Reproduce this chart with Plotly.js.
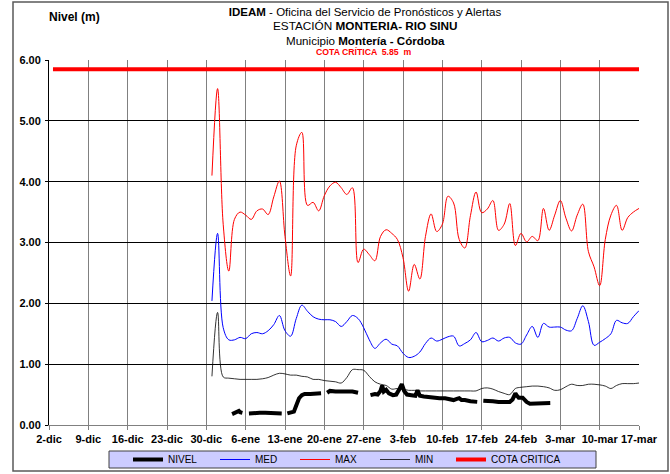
<!DOCTYPE html>
<html>
<head>
<meta charset="utf-8">
<script src="https://cdn.plot.ly/plotly-3.0.1.min.js"></script>
<style>html,body{margin:0;padding:0;background:#fff;}#chart{width:670px;height:474px;}</style>
</head>
<body>
<div id="chart"></div>
<script>
// ---- Data ----
const tickVals = ['2018-12-02','2018-12-09','2018-12-16','2018-12-23','2018-12-30','2019-01-06','2019-01-13','2019-01-20','2019-01-27','2019-02-03','2019-02-10','2019-02-17','2019-02-24','2019-03-03','2019-03-10','2019-03-17'];
const tickLabels = ['2-dic','9-dic','16-dic','23-dic','30-dic','6-ene','13-ene','20-ene','27-ene','3-feb','10-feb','17-feb','24-feb','3-mar','10-mar','17-mar'];
const yTickVals = [0, 1, 2, 3, 4, 5, 6];

// daily historical series start on 31-dic and run to 17-mar
const seriesStart = '2018-12-31';
const maxValues = [4.10,5.53,3.30,2.53,3.38,3.50,3.45,3.38,3.52,3.55,
  3.46,3.75,4.01,3.10,2.45,4.59,4.81,3.61,3.66,3.52,
  3.77,3.93,3.99,3.90,3.79,3.90,2.67,2.89,2.80,2.70,
  3.10,3.21,3.15,3.05,2.75,2.20,2.64,2.40,3.10,3.47,
  3.18,3.30,3.76,3.65,3.05,2.91,3.44,3.83,3.49,3.55,
  3.69,3.20,3.30,3.64,2.95,3.15,3.01,3.10,3.03,3.56,
  3.20,3.45,3.69,3.40,3.19,3.45,3.63,2.85,2.60,2.29,
  3.05,3.45,3.61,3.20,3.41,3.50,3.56];
const medValues = [2.04,3.15,1.60,1.40,1.40,1.44,1.42,1.50,1.52,1.50,
  1.55,1.65,1.80,1.55,1.46,1.75,1.97,1.87,1.78,1.74,
  1.73,1.73,1.70,1.62,1.70,1.80,1.75,1.60,1.40,1.26,
  1.35,1.41,1.33,1.30,1.18,1.11,1.13,1.20,1.34,1.43,
  1.38,1.41,1.45,1.46,1.30,1.34,1.40,1.52,1.37,1.39,
  1.43,1.38,1.43,1.44,1.35,1.33,1.48,1.62,1.44,1.67,
  1.61,1.61,1.61,1.56,1.55,1.75,1.96,1.70,1.31,1.36,
  1.42,1.50,1.72,1.68,1.67,1.78,1.88];
const minValues = [0.80,1.85,0.79,0.77,0.76,0.75,0.75,0.75,0.75,0.76,
  0.78,0.82,0.85,0.84,0.82,0.82,0.80,0.79,0.75,0.75,
  0.73,0.72,0.71,0.69,0.78,0.91,0.91,0.90,0.80,0.71,
  0.67,0.65,0.59,0.60,0.59,0.57,0.57,0.56,0.56,0.56,
  0.56,0.56,0.56,0.56,0.56,0.56,0.56,0.56,0.60,0.61,
  0.59,0.55,0.52,0.50,0.60,0.62,0.63,0.64,0.64,0.63,
  0.61,0.57,0.58,0.63,0.67,0.65,0.65,0.67,0.67,0.66,
  0.64,0.60,0.65,0.68,0.68,0.68,0.69];

// observed level (NIVEL), with gaps
const nivelDates = ['2019-01-03 14:00','2019-01-04 00:00','2019-01-04 12:00','2019-01-04 19:00','2019-01-05 00:00','2019-01-05 10:00','2019-01-05 18:00',
  '2019-01-06 14:00','2019-01-07 12:00','2019-01-08 12:00','2019-01-09 12:00','2019-01-10 12:00','2019-01-11 12:00','2019-01-12 10:00','2019-01-12 18:00',
  '2019-01-13 10:00','2019-01-14 00:00','2019-01-14 14:00','2019-01-15 00:00','2019-01-15 12:00','2019-01-16 00:00','2019-01-16 12:00','2019-01-17 12:00','2019-01-18 12:00','2019-01-19 10:00','2019-01-19 20:00',
  '2019-01-20 12:00','2019-01-21 00:00','2019-01-22 00:00','2019-01-23 00:00','2019-01-24 00:00','2019-01-25 00:00','2019-01-26 00:00','2019-01-26 18:00',
  '2019-01-28 05:00','2019-01-29 00:00','2019-01-29 12:00','2019-01-30 00:00','2019-01-30 07:00','2019-01-30 14:00','2019-01-31 00:00','2019-01-31 12:00',
  '2019-02-01 05:00','2019-02-01 19:00','2019-02-02 10:00','2019-02-02 19:00','2019-02-03 05:00','2019-02-03 17:00','2019-02-04 12:00','2019-02-05 05:00',
  '2019-02-05 14:00','2019-02-06 00:00','2019-02-06 17:00','2019-02-07 12:00','2019-02-08 12:00','2019-02-09 12:00','2019-02-10 12:00','2019-02-11 07:00',
  '2019-02-12 00:00','2019-02-12 14:00','2019-02-13 00:00','2019-02-13 10:00','2019-02-14 00:00','2019-02-15 00:00','2019-02-16 05:00','2019-02-16 16:00',
  '2019-02-17 07:00','2019-02-18 00:00','2019-02-19 00:00','2019-02-20 00:00','2019-02-21 00:00','2019-02-22 00:00','2019-02-22 12:00','2019-02-23 00:00',
  '2019-02-23 07:00','2019-02-23 14:00','2019-02-24 07:00','2019-02-25 00:00','2019-02-25 14:00','2019-02-26 12:00','2019-02-27 12:00','2019-02-28 12:00','2019-03-01 05:00'];
const nivelValues = [0.18,0.20,0.21,0.23,0.21,0.20,null,
  0.19,0.20,0.20,0.20,0.20,0.19,0.19,null,
  0.19,0.20,0.22,0.32,0.44,0.49,0.51,0.51,0.51,0.52,null,
  0.53,0.56,0.55,0.55,0.54,0.55,0.53,null,
  0.49,0.51,0.50,0.56,0.65,0.55,0.58,0.52,
  0.49,0.50,0.60,0.67,0.56,0.50,0.49,0.48,
  0.57,0.48,0.47,0.46,0.45,0.44,0.44,0.42,
  0.41,0.43,0.44,0.41,0.41,0.39,0.38,null,
  0.40,0.40,0.39,0.38,0.38,0.38,0.42,0.52,
  0.48,0.45,0.45,0.38,0.35,0.35,0.35,0.35,0.36];

const cotaDates = ['2018-12-02 17:00','2019-03-17 00:00'];
const cotaValues = [5.85, 5.85];

const seriesNames = ['NIVEL', 'MED', 'MAX', 'MIN', 'COTA CRITICA'];

// ---- build daily date list for historical series ----
function dailyDates(start, n) {
  const t0 = Date.parse(start + 'T00:00:00Z');
  const out = [];
  for (let i = 0; i < n; i++) out.push(new Date(t0 + i * 86400000).toISOString().slice(0, 10));
  return out;
}
const histDates = dailyDates(seriesStart, maxValues.length);

const FONT = 'Liberation Sans, Arial, sans-serif';

const traces = [
  {name: seriesNames[0], legend: 'legend', x: nivelDates, y: nivelValues, type: 'scatter', mode: 'lines',
   line: {color: '#000000', width: 4}, connectgaps: false},
  {name: seriesNames[1], legend: 'legend2', x: histDates, y: medValues, type: 'scatter', mode: 'lines',
   line: {color: '#0000ff', width: 1, shape: 'spline'}},
  {name: seriesNames[2], legend: 'legend3', x: histDates, y: maxValues, type: 'scatter', mode: 'lines',
   line: {color: '#ff0000', width: 1, shape: 'spline'}},
  {name: seriesNames[3], legend: 'legend4', x: histDates, y: minValues, type: 'scatter', mode: 'lines',
   line: {color: '#000000', width: 0.8, shape: 'spline'}},
  {name: seriesNames[4], legend: 'legend5', x: cotaDates, y: cotaValues, type: 'scatter', mode: 'lines',
   line: {color: '#ff0000', width: 4}}
];

const L = 49, R = 31, T = 60, B = 49, W = 670, H = 474;
const pw = W - L - R, ph = H - T - B;
const px = v => (v - L) / pw;
const py = v => (H - B - v) / ph;

function legendAt(textStartPx) {
  return {
    orientation: 'h', xref: 'paper', yref: 'paper',
    x: px(textStartPx - 38), xanchor: 'left', y: py(459.5), yanchor: 'middle',
    bgcolor: 'rgba(0,0,0,0)', borderwidth: 0,
    font: {family: FONT, size: 10, color: '#000'}
  };
}

const layout = {
  width: W, height: H,
  margin: {l: L, r: R, t: T, b: B, pad: 0, autoexpand: false},
  paper_bgcolor: '#ffffff', plot_bgcolor: '#ffffff',
  font: {family: FONT, size: 11, color: '#000'},
  showlegend: true,
  title: {
    text: '<b>IDEAM</b> - Oficina del Servicio de Pronósticos y Alertas',
    font: {family: FONT, size: 11.5, color: '#000'},
    x: px(365), xref: 'paper', xanchor: 'center',
    y: 1 - 12 / H, yref: 'container', yanchor: 'middle'
  },
  xaxis: {
    type: 'date', range: ['2018-12-02', '2019-03-17'],
    tickmode: 'array', tickvals: tickVals, ticktext: tickLabels,
    tickfont: {family: FONT, size: 11, weight: 'bold', color: '#000'},
    ticks: 'outside', ticklen: 4, tickcolor: '#808080',
    showgrid: true, gridcolor: '#808080', gridwidth: 1,
    showline: true, linecolor: '#808080', linewidth: 1,
    zeroline: false, fixedrange: true, automargin: false
  },
  yaxis: {
    range: [0, 6], tickmode: 'array', tickvals: yTickVals,
    tickformat: '.2f',
    tickfont: {family: FONT, size: 11, weight: 'bold', color: '#000'},
    ticks: 'outside', ticklen: 3, tickcolor: '#000', ticklabelstandoff: 2,
    showgrid: true, gridcolor: '#000000', gridwidth: 1,
    showline: true, linecolor: '#000', linewidth: 1,
    zeroline: false, fixedrange: true, automargin: false
  },
  legend: legendAt(166),
  legend2: legendAt(253),
  legend3: legendAt(333),
  legend4: legendAt(413),
  legend5: legendAt(489),
  shapes: [
    {type: 'rect', xref: 'paper', yref: 'paper', x0: px(109), x1: px(596), y0: py(468), y1: py(451),
     fillcolor: '#ccccff', line: {color: '#404040', width: 1}, layer: 'below'},
    {type: 'rect', xref: 'paper', yref: 'paper', x0: px(13), x1: px(668), y0: py(471), y1: py(2),
     fillcolor: 'rgba(0,0,0,0)', line: {color: '#5a5a5a', width: 1.5}, layer: 'above'}
  ],
  annotations: [
    {text: 'ESTACIÓN <b>MONTERIA- RIO SINU</b>', xref: 'paper', yref: 'paper', x: px(365), y: py(26),
     xanchor: 'center', yanchor: 'middle', showarrow: false,
     font: {family: FONT, size: 11.75, color: '#000'}},
    {text: 'Municipio <b>Montería - Córdoba</b>', xref: 'paper', yref: 'paper', x: px(365), y: py(40),
     xanchor: 'center', yanchor: 'middle', showarrow: false,
     font: {family: FONT, size: 11.6, color: '#000'}},
    {text: '<b>COTA CRÍTICA  5.85  m</b>', xref: 'paper', yref: 'paper', x: px(364), y: py(52),
     xanchor: 'center', yanchor: 'middle', showarrow: false,
     font: {family: FONT, size: 8.7, color: '#ff0000'}},
    {text: '<b>Nivel (m)</b>', xref: 'paper', yref: 'paper', x: px(47), y: py(17),
     xanchor: 'left', yanchor: 'middle', showarrow: false,
     font: {family: FONT, size: 12, color: '#000'}}
  ]
};

Plotly.newPlot('chart', traces, layout, {displayModeBar: false, staticPlot: true});
</script>
</body>
</html>
